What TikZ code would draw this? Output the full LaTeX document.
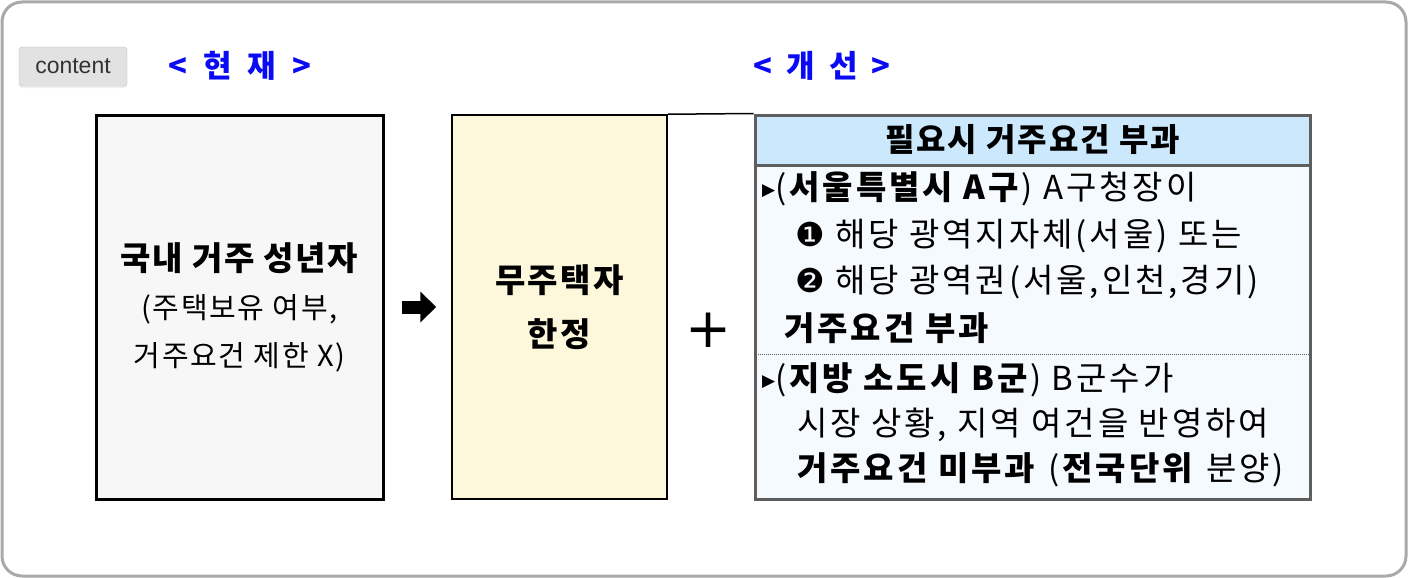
\documentclass[tikz,border=0pt]{standalone}
\usepackage{fontspec}
\setmainfont{Noto Sans CJK KR}
\newfontfamily\symfont{DejaVu Sans}
\newfontfamily\btnfont{Liberation Sans}
\usetikzlibrary{arrows.meta,shadows}
\definecolor{framegray}{HTML}{A9A9A9}
\definecolor{btnfill}{HTML}{E2E2E2}
\definecolor{btntext}{HTML}{333333}
\definecolor{titleblue}{HTML}{0A0AF5}
\definecolor{nowfill}{HTML}{F7F7F7}
\definecolor{nohousefill}{HTML}{FDF8DC}
\definecolor{headfill}{HTML}{CCE8FC}
\definecolor{bodyfill}{HTML}{F5FAFE}
\definecolor{boxgray}{HTML}{5E5E5E}
\newcommand{\rowmark}{\raisebox{4pt}{\symfont\fontsize{17}{17}\selectfont ▶}}
\tikzset{
  btn/.style={draw=btnfill!85!black, fill=btnfill, rounded corners=3pt, minimum width=108pt, minimum height=39pt,
    font=\btnfont\fontsize{23}{26}\selectfont, text=btntext, drop shadow={opacity=0.12, shadow xshift=0pt, shadow yshift=-2pt}},
  title/.style={text=titleblue, font=\fontsize{31}{34}\selectfont\bfseries},
  bigbox/.style={minimum height=384pt, align=center, inner sep=0pt},
  row/.style={anchor=west, inner sep=0pt, font=\fontsize{33}{36}\selectfont\addfontfeature{LetterSpace=9}},
  fatarrow/.style={line width=13pt, -{Triangle[length=16pt,width=30pt]}},
}
\begin{document}
\begin{tikzpicture}[x=1pt, y=-1pt]
\useasboundingbox (0,0) rectangle (1408,578);
\draw[framegray, line width=3pt, rounded corners=20pt] (2,2) rectangle (1406,576);
\node[btn] (btn) at (73,66.5) {content};
\node[title] (hyeonjae) at (240,66) {<\hspace{16pt}현\hspace{16pt}재\hspace{16pt}>};
\node[title] (gaeseon) at (822,66) {<\hspace{14pt}개\hspace{14pt}선\hspace{14pt}>};

\node[bigbox, draw=black, line width=3pt, fill=nowfill, minimum width=287pt,
  font=\fontsize{29}{48}\selectfont\addfontfeature{LetterSpace=6}] (now) at (239.5,307)
  {{\fontsize{33}{48}\selectfont\bfseries\addfontfeature{LetterSpace=5}국내 거주 성년자}\\(주택보유 여부,\\거주요건 제한 X)};
\node[bigbox, draw=black, line width=1.5pt, fill=nohousefill, minimum width=215pt,
  font=\fontsize{33}{54}\selectfont\bfseries\addfontfeature{LetterSpace=7}] (nohouse) at (559.5,307) {무주택자\\한정};
\draw[fatarrow, shorten <=17pt, shorten >=15pt] (now) -- (nohouse);

\node[bigbox, draw=boxgray, line width=3pt, fill=bodyfill, minimum width=555pt] (better) at (1032.5,307) {};
\node[draw=boxgray, line width=3pt, fill=headfill, minimum width=555pt, minimum height=50pt,
  font=\fontsize{32}{36}\selectfont\bfseries\addfontfeature{LetterSpace=6}] (head) at (1032.5,140) {필요시 거주요건 부과};
\draw[line width=1.5pt] (nohouse.north east) -- (better.north west);
\node[font=\symfont\fontsize{55}{60}\selectfont] (plus) at (709,330) {+};

\draw[boxgray, line width=1pt, dash pattern=on 1pt off 1pt] (756,354) -- (1309,354);
\node[row] (r1) at (762,189) {\rowmark(\textbf{서울특별시 A구}) A구청장이};
\node[row] (r2) at (795,236) {{\symfont ❶} 해당 광역지자체(서울) 또는};
\node[row] (r3) at (795,282) {{\symfont ❷} 해당 광역권(서울,인천,경기)};
\node[row, font=\fontsize{33}{36}\selectfont\bfseries\addfontfeature{LetterSpace=9}] (r4) at (784,328) {거주요건 부과};
\node[row] (r5) at (762,380) {\rowmark(\textbf{지방 소도시 B군}) B군수가};
\node[row] (r6) at (797,425) {시장 상황, 지역 여건을 반영하여};
\node[row] (r7) at (797,470) {\textbf{거주요건 미부과} (\textbf{전국단위} 분양)};
\end{tikzpicture}
\end{document}
